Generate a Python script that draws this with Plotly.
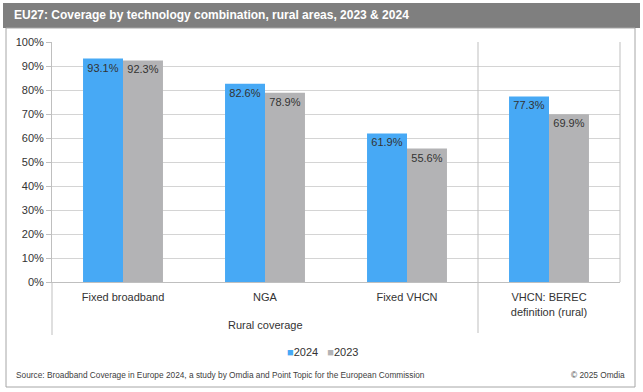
import plotly.graph_objects as go

categories = ["Fixed broadband", "NGA", "Fixed VHCN", "VHCN: BEREC<br>definition (rural)"]
values_2024 = [0.931, 0.826, 0.619, 0.773]
values_2023 = [0.923, 0.789, 0.556, 0.699]
series_names = ["2024", "2023"]
y_ticks = [0, 0.1, 0.2, 0.3, 0.4, 0.5, 0.6, 0.7, 0.8, 0.9, 1.0]
y_ticklabels = ["0%", "10%", "20%", "30%", "40%", "50%", "60%", "70%", "80%", "90%", "100%"]

W, H = 643, 392
L, R, T, B = 52, 620, 42, 282

def px(x):
    return (x - L) / (R - L)

def py(y):
    return (B - y) / (B - T)

FONT = "Liberation Sans, Arial, sans-serif"
BLUE, GRAY = "#47A9F5", "#B3B3B5"
x_idx = list(range(len(categories)))

fig = go.Figure()
for name, vals, col in [(series_names[0], values_2024, BLUE), (series_names[1], values_2023, GRAY)]:
    fig.add_trace(go.Bar(
        x=x_idx, y=vals, name=name, marker_color=col, marker_line_width=0,
        texttemplate="%{y:.1%}", textposition="inside", insidetextanchor="end",
        textfont=dict(size=11, color="#333333", family=FONT), constraintext="none",
        showlegend=False,
    ))

fig.update_layout(
    width=W, height=H,
    margin=dict(l=L, r=W - R, t=T, b=H - B),
    paper_bgcolor="white", plot_bgcolor="white",
    barmode="group", bargap=0.437, bargroupgap=0,
    font=dict(family=FONT, size=11, color="#333333"),
    showlegend=False,
)
fig.update_xaxes(
    range=[-0.5, 3.5], tickvals=x_idx, ticktext=categories,
    showgrid=False, showline=True, linecolor="#BFBFBF", linewidth=1,
    ticks="", ticklabelstandoff=5, tickfont=dict(size=11, color="#333333"), zeroline=False,
)
fig.update_yaxes(
    range=[0, 1], tickvals=y_ticks, ticktext=y_ticklabels,
    showgrid=True, gridcolor="#D4D4D4", gridwidth=1,
    showline=True, linecolor="#BFBFBF", linewidth=1, mirror=False,
    ticks="outside", ticklen=5, tickcolor="#BFBFBF",
    tickfont=dict(size=11, color="#333333"), zeroline=False,
)

shapes = [
    dict(type="rect", xref="paper", yref="paper", x0=px(3), x1=px(640), y0=py(28), y1=py(3),
         fillcolor="#7F7F7F", line=dict(width=0), layer="below"),
    dict(type="rect", xref="paper", yref="paper", x0=px(6), x1=px(635), y0=py(387), y1=py(28),
         fillcolor="rgba(0,0,0,0)", line=dict(color="#A6A6A6", width=1)),
    dict(type="line", xref="paper", yref="paper", x0=1, x1=1, y0=0, y1=1,
         line=dict(color="#BFBFBF", width=1)),
    dict(type="line", xref="paper", yref="paper", x0=0, x1=0, y0=py(335), y1=0,
         line=dict(color="#BFBFBF", width=1)),
    dict(type="line", xref="x", yref="paper", x0=2.5, x1=2.5, y0=py(333), y1=1,
         line=dict(color="#BFBFBF", width=1)),
]
fig.update_layout(shapes=shapes)

legend_text = (f'<span style="color:{BLUE}">■</span>{series_names[0]}&nbsp;&nbsp;&nbsp;'
               f'<span style="color:{GRAY}">■</span>{series_names[1]}')

annotations = [
    dict(text="<b>EU27: Coverage by technology combination, rural areas, 2023 & 2024</b>",
         xref="paper", yref="paper", x=px(12), y=py(15), xanchor="left", yanchor="middle",
         showarrow=False, font=dict(size=12, color="white", family=FONT)),
    dict(text="Rural coverage", xref="x", yref="paper", x=1, y=py(325), xanchor="center", yanchor="middle",
         showarrow=False, font=dict(size=11, color="#333333")),
    dict(text=legend_text, xref="paper", yref="paper", x=px(322), y=py(352), xanchor="center", yanchor="middle",
         showarrow=False, font=dict(size=11, color="#333333")),
    dict(text="Source: Broadband Coverage in Europe 2024, a study by Omdia and Point Topic for the European Commission",
         xref="paper", yref="paper", x=px(14), y=py(375), xanchor="left", yanchor="middle",
         showarrow=False, font=dict(size=8.3, color="#404040")),
    dict(text="© 2025 Omdia", xref="paper", yref="paper", x=px(627), y=py(375), xanchor="right", yanchor="middle",
         showarrow=False, font=dict(size=8.3, color="#404040")),
]
fig.update_layout(annotations=annotations)

fig.write_html("out.html", config={"displayModeBar": False},
               post_script="document.body.style.margin='0';")
